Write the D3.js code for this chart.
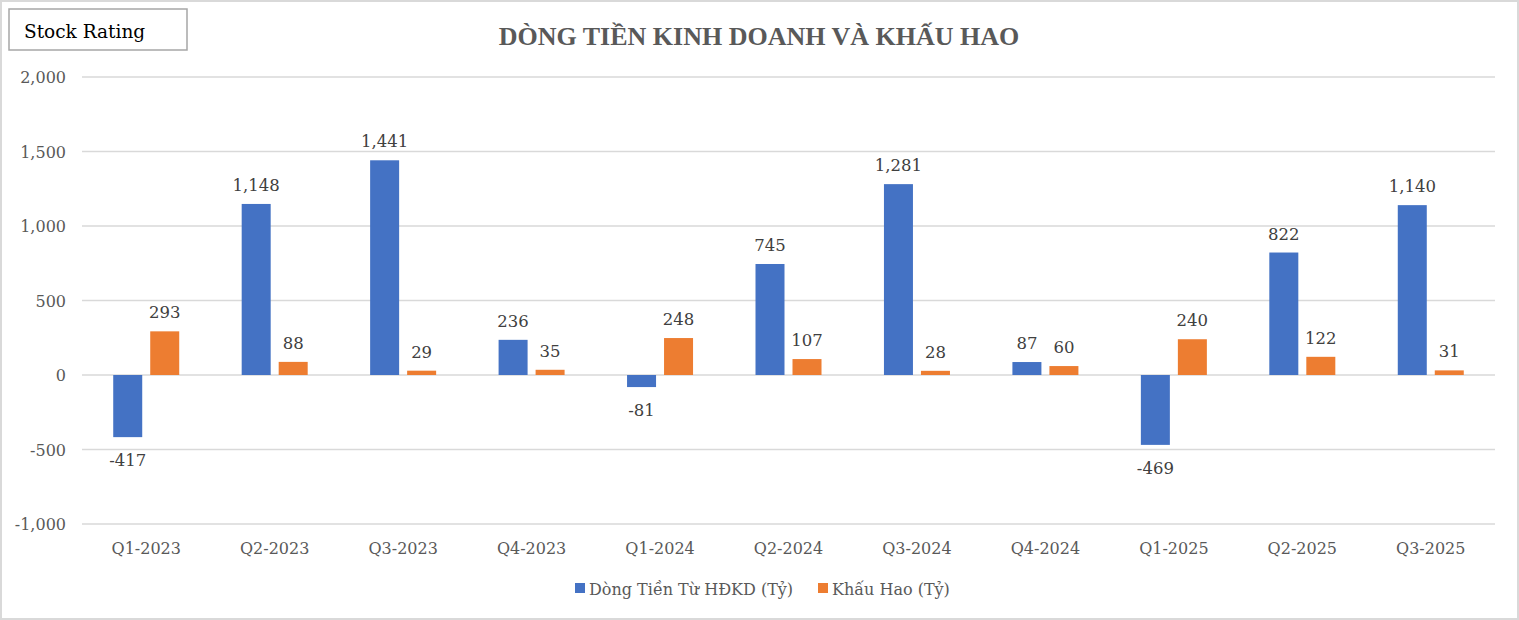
<!DOCTYPE html>
<html>
<head>
<meta charset="utf-8">
<script src="https://cdn.jsdelivr.net/npm/d3@7"></script>
<style>
  body { margin: 0; background: #fff; }
  svg { display: block; }
  text { font-family: "DejaVu Serif", "Liberation Serif", serif; }
</style>
</head>
<body>
<svg id="chart" width="1519" height="620"></svg>
<script>
const quarters = ['Q1-2023', 'Q2-2023', 'Q3-2023', 'Q4-2023', 'Q1-2024', 'Q2-2024',
  'Q3-2024', 'Q4-2024', 'Q1-2025', 'Q2-2025', 'Q3-2025']
const cashFlow = [-417, 1148, 1441, 236, -81, 745, 1281, 87, -469, 822, 1140]
const depreciation = [293, 88, 29, 35, 248, 107, 28, 60, 240, 122, 31]
const yTicks = [-1000, -500, 0, 500, 1000, 1500, 2000]
const seriesNames = ['Dòng Tiền Từ HĐKD (Tỷ)', 'Khấu Hao (Tỷ)']
const colors = ['#4472c4', '#ed7d31']

const W = 1519
const H = 620
const svg = d3.select('#chart')

// outer frame
svg.append('rect')
  .attr('x', 1).attr('y', 1).attr('width', W - 2).attr('height', H - 2)
  .attr('fill', '#fff').attr('stroke', '#d9d9d9').attr('stroke-width', 2)

const plotLeft = 82
const plotRight = 1495
const plotTop = 77
const plotBottom = 524

const x = d3.scaleBand().domain(quarters).range([plotLeft, plotRight])
const y = d3.scaleLinear().domain([-1000, 2000]).range([plotBottom, plotTop])
// plain hyphen for negatives, like the spreadsheet
const fmt = d3.formatLocale({ decimal: '.', thousands: ',', grouping: [3], currency: ['', ''], minus: '-' }).format(',')

// gridlines
svg.append('g')
  .selectAll('line')
  .data(yTicks)
  .enter()
  .append('line')
  .attr('x1', plotLeft).attr('x2', plotRight)
  .attr('y1', d => y(d)).attr('y2', d => y(d))
  .attr('stroke', '#d9d9d9').attr('stroke-width', 1.5)

// y labels
svg.append('g')
  .selectAll('text')
  .data(yTicks)
  .enter()
  .append('text')
  .attr('x', 66)
  .attr('y', d => y(d) + 6)
  .attr('text-anchor', 'end')
  .style('font-size', '16px')
  .style('fill', '#595959')
  .text(d => fmt(d))

// x labels
svg.append('g')
  .selectAll('text')
  .data(quarters)
  .enter()
  .append('text')
  .attr('x', d => x(d) + x.bandwidth() / 2)
  .attr('y', 554)
  .attr('text-anchor', 'middle')
  .style('font-size', '16px')
  .style('fill', '#595959')
  .text(d => d)

const barW = 29
const offsets = [-18.5, 18.5]
const series = [cashFlow, depreciation]

series.forEach((vals, s) => {
  const g = svg.append('g')
  g.selectAll('rect')
    .data(vals)
    .enter()
    .append('rect')
    .attr('x', (d, i) => x(quarters[i]) + x.bandwidth() / 2 + offsets[s] - barW / 2)
    .attr('y', d => y(Math.max(0, d)))
    .attr('width', barW)
    .attr('height', d => Math.abs(y(d) - y(0)))
    .attr('fill', colors[s])

  g.selectAll('text')
    .data(vals)
    .enter()
    .append('text')
    .attr('x', (d, i) => x(quarters[i]) + x.bandwidth() / 2 + offsets[s])
    .attr('y', d => d >= 0 ? y(d) - 13 : y(d) + 29)
    .attr('text-anchor', 'middle')
    .style('font-size', '16.5px')
    .style('fill', '#404040')
    .text(d => fmt(d))
})

// title
svg.append('text')
  .attr('x', 759)
  .attr('y', 45)
  .attr('text-anchor', 'middle')
  .style('font-family', '"Liberation Serif", serif')
  .style('font-size', '26px')
  .style('font-weight', 'bold')
  .style('fill', '#595959')
  .text('DÒNG TIỀN KINH DOANH VÀ KHẤU HAO')

// stock rating box
svg.append('rect')
  .attr('x', 9).attr('y', 9).attr('width', 178).attr('height', 41)
  .attr('fill', '#fff').attr('stroke', '#a6a6a6').attr('stroke-width', 1.5)
svg.append('text')
  .attr('x', 24).attr('y', 38)
  .style('font-size', '18.5px')
  .style('fill', '#000')
  .text('Stock Rating')

// legend
const legendX = [575, 818]
seriesNames.forEach((name, s) => {
  svg.append('rect')
    .attr('x', legendX[s]).attr('y', 583).attr('width', 10).attr('height', 10)
    .attr('fill', colors[s])
  svg.append('text')
    .attr('x', legendX[s] + 14).attr('y', 595)
    .style('font-size', '16px')
    .style('fill', '#595959')
    .text(name)
})
</script>
</body>
</html>
